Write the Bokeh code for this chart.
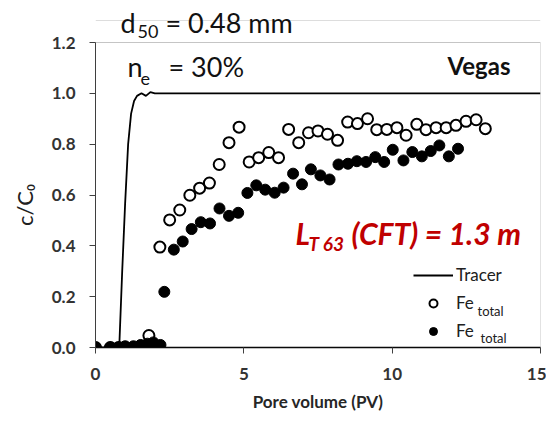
from bokeh.plotting import figure
from bokeh.models import (Label, Legend, LegendItem, Range1d, FixedTicker, BoxAnnotation,
                          Span, CustomJSTickFormatter)
from bokeh.embed import file_html
from bokeh.resources import INLINE

# ---- data ----
tracer_pv = [0, 0.8, 0.9, 1.0, 1.1, 1.2, 1.3, 1.4, 1.55, 1.7, 1.85, 2.0, 15]
tracer_c = [0, 0, 0.30, 0.57, 0.80, 0.92, 0.97, 0.99, 1.0, 0.99, 1.005, 1.0, 1.0]

fe_open_pv = [0, 0.5, 0.78, 1.0, 1.28, 1.52, 1.8, 1.95,
              2.17, 2.50, 2.84, 3.18, 3.51, 3.84, 4.17, 4.50, 4.84, 5.18, 5.50,
              5.84, 6.17, 6.51, 6.85, 7.18, 7.50, 7.82, 8.16, 8.50, 8.83, 9.17,
              9.48, 9.82, 10.16, 10.47, 10.83, 11.14, 11.48, 11.82, 12.15, 12.49,
              12.83, 13.14]
fe_open_c = [0, 0, 0, 0, 0, 0.005, 0.047, 0.01,
             0.395, 0.502, 0.541, 0.599, 0.627, 0.647, 0.720, 0.806, 0.867, 0.730, 0.747,
             0.767, 0.747, 0.858, 0.806, 0.845, 0.852, 0.839, 0.815, 0.887, 0.881, 0.900,
             0.857, 0.858, 0.865, 0.835, 0.878, 0.857, 0.865, 0.865, 0.874, 0.890,
             0.896, 0.861]

fe_fill_pv = [0, 0.5, 0.78, 1.0, 1.28, 1.52, 1.75, 1.95, 2.19,
              2.32, 2.64, 2.94, 3.24, 3.55, 3.86, 4.18, 4.50, 4.81, 5.12, 5.42,
              5.72, 6.04, 6.34, 6.66, 6.96, 7.26, 7.58, 7.89, 8.19, 8.51, 8.81,
              9.12, 9.43, 9.73, 10.02, 10.38, 10.68, 11.0, 11.30, 11.59, 11.91, 12.22]
fe_fill_c = [0, 0, 0, 0.005, 0.005, 0.01, 0.015, 0.02, 0.01,
             0.219, 0.385, 0.417, 0.466, 0.493, 0.488, 0.547, 0.518, 0.530, 0.608, 0.638,
             0.621, 0.609, 0.629, 0.684, 0.642, 0.701, 0.677, 0.661, 0.720, 0.723, 0.733,
             0.730, 0.749, 0.730, 0.778, 0.736, 0.769, 0.752, 0.773, 0.795, 0.752, 0.782]

x_ticks = [0, 5, 10, 15]
y_ticks = [0.0, 0.2, 0.4, 0.6, 0.8, 1.0, 1.2]
X_MAX = 15
Y_MAX = 1.2

FONT = "Lato"
TXT = "#333333"

# frame from canvas top to x-axis; the visible axes box (0..1.2) is drawn as a box annotation
FRAME_H = 347
BOX_H = 305
y_top = Y_MAX * FRAME_H / BOX_H

p = figure(width=546, height=422, output_backend="svg", toolbar_location=None,
           x_range=Range1d(0, X_MAX), y_range=Range1d(0, y_top),
           min_border_left=95, min_border_right=6, min_border_top=0, min_border_bottom=75)
p.xgrid.visible = False
p.ygrid.visible = False
p.outline_line_color = None
p.background_fill_color = "white"
p.border_fill_color = "white"

# faint outer chart-area line near the top
p.add_layout(Span(location=Y_MAX * (FRAME_H - 20) / BOX_H, dimension="width",
                  line_color="#DDDDDD", line_width=1))
# axes box
p.add_layout(BoxAnnotation(left=0, right=X_MAX, bottom=0, top=Y_MAX, fill_alpha=0,
                           line_color="#404040", line_width=1))

for ax in (p.xaxis[0], p.yaxis[0]):
    ax.major_label_text_font = FONT
    ax.major_label_text_font_style = "bold"
    ax.major_label_text_font_size = "17px"
    ax.major_label_text_color = TXT
    ax.minor_tick_line_color = None
    ax.major_tick_in = 0
    ax.major_tick_out = 6
    ax.major_tick_line_color = "#404040"

p.xaxis.ticker = FixedTicker(ticks=x_ticks)
p.yaxis.ticker = FixedTicker(ticks=y_ticks)
p.yaxis.bounds = (0, Y_MAX)
p.yaxis.formatter = CustomJSTickFormatter(code="return tick.toFixed(1);")
p.xaxis.axis_line_color = "black"
p.xaxis.axis_line_width = 1.5
p.yaxis.axis_line_color = "#404040"
p.xaxis.major_label_standoff = 14
p.yaxis.major_label_standoff = 14

p.xaxis.axis_label = "Pore volume (PV)"
p.xaxis.axis_label_text_font = FONT
p.xaxis.axis_label_text_font_style = "bold"
p.xaxis.axis_label_text_font_size = "17px"
p.xaxis.axis_label_text_color = "#262626"
p.xaxis.axis_label_standoff = 8

# trailing no-break spaces push the rotated title down to the centre of the 0..1.2 box
p.yaxis.axis_label = "c/C\u2080" + "\u00a0" * 11
p.yaxis.axis_label_text_font = FONT
p.yaxis.axis_label_text_font_style = "normal"
p.yaxis.axis_label_text_font_size = "22px"
p.yaxis.axis_label_text_color = "#202020"
p.yaxis.axis_label_standoff = 11

tr = p.line(tracer_pv, tracer_c, line_color="black", line_width=1.8)
op = p.scatter(fe_open_pv, fe_open_c, marker="circle", size=11, fill_color="white",
               line_color="black", line_width=2)
fl = p.scatter(fe_fill_pv, fe_fill_c, marker="circle", size=11, fill_color="black",
               line_color="black", line_width=1)

legend = Legend(items=[LegendItem(label="Tracer", renderers=[tr]),
                       LegendItem(label="Fe", renderers=[op]),
                       LegendItem(label="Fe", renderers=[fl])],
                location=(318, 6), orientation="vertical",
                glyph_width=40, glyph_height=20, label_height=20, spacing=7,
                padding=0, margin=0, label_standoff=3,
                label_text_font=FONT, label_text_font_size="17px", label_text_color="#202020",
                border_line_color=None, background_fill_alpha=0)
p.add_layout(legend)


def lab(text, sx, sy, size, style="normal", color="#111111", align="left"):
    p.add_layout(Label(x=sx, y=sy, x_units="screen", y_units="screen", text=text,
                       text_font=FONT, text_font_size=size, text_font_style=style,
                       text_color=color, text_align=align, text_baseline="alphabetic"))


# title block (screen coords relative to frame bottom-left)
lab("d", 25, 325, "27px")
lab("50", 42, 316, "18px")
lab("= 0.48 mm", 70, 325, "27px")
lab("n", 32, 281, "27px")
lab("e", 45, 269, "18px")
lab("= 30%", 73, 281, "27px")
lab("Vegas", 415, 282, "24px", style="bold", align="right")

# red annotation
RED = "#C00000"
lab("L", 200, 115, "30px", style="bold italic", color=RED)
lab("T 63", 213, 104, "19px", style="bold italic", color=RED)
lab("(CFT) = 1.3 m", 256, 115, "30px", style="bold italic", color=RED)

# legend subscripts
lab("total", 382, 37, "13px", color="#202020")
lab("total", 385, 10, "13px", color="#202020")

open("out.html", "w").write(file_html(p, INLINE))
